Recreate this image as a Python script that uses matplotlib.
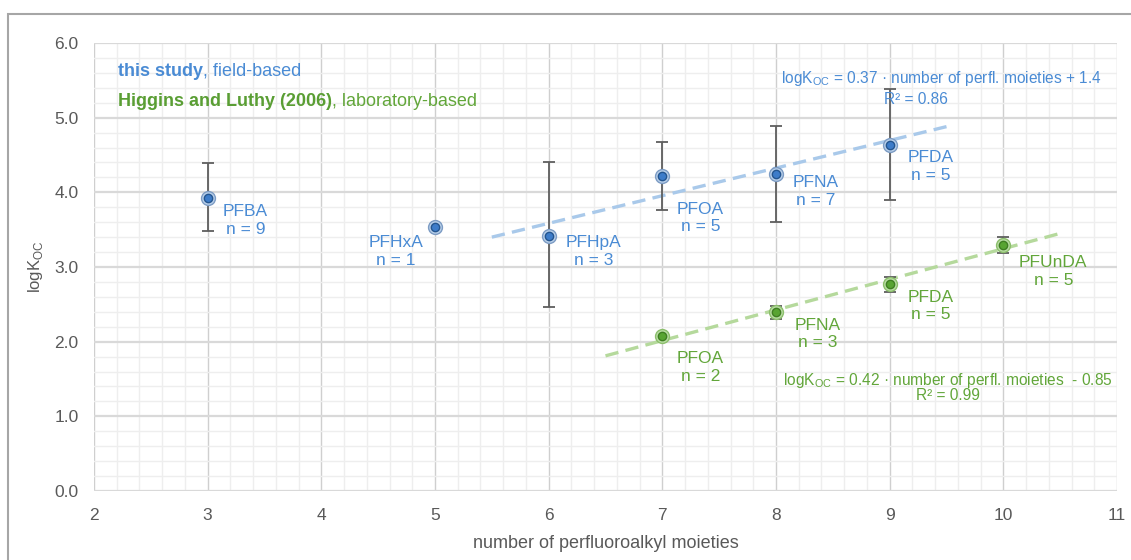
import numpy as np
import matplotlib
matplotlib.use("Agg")
import matplotlib.pyplot as plt
from matplotlib.patches import Rectangle
from matplotlib.ticker import MultipleLocator

plt.rcParams['font.family'] = ['Liberation Sans', 'DejaVu Sans']

# this study (field-based)
blue_x = [3, 5, 6, 7, 8, 9]
blue_y = [3.93, 3.53, 3.42, 4.22, 4.24, 4.64]
blue_lo = [3.48, np.nan, 2.46, 3.76, 3.60, 3.90]
blue_hi = [4.39, np.nan, 4.40, 4.68, 4.89, 5.38]
blue_names = ["PFBA", "PFHxA", "PFHpA", "PFOA", "PFNA", "PFDA"]
blue_n = [9, 1, 3, 5, 7, 5]
blue_trend_x = [5.5, 9.5]
blue_trend_y = [3.40, 4.88]

# Higgins and Luthy (2006), laboratory-based
green_x = [7, 8, 9, 10]
green_y = [2.07, 2.40, 2.77, 3.30]
green_lo = [np.nan, 2.31, 2.66, 3.19]
green_hi = [np.nan, 2.48, 2.87, 3.40]
green_names = ["PFOA", "PFNA", "PFDA", "PFUnDA"]
green_n = [2, 3, 5, 5]
green_trend_x = [6.5, 10.5]
green_trend_y = [1.81, 3.45]

blue_txt = "#4a8bd4"
green_txt = "#62a63a"

fig = plt.figure(figsize=(11.31, 5.6), dpi=100)
ax = fig.add_axes([94/1131, 1-491/560, (1117-94)/1131, (491-43)/560])

# outer frame of the chart
fig.patches.append(Rectangle((8/1131, -0.2), 1.2, 0.2 + (1-14/560), transform=fig.transFigure,
                             fill=False, edgecolor="#a6a6a6", lw=1.5))

ax.set_xlim(2, 11)
ax.set_ylim(0, 6)
ax.xaxis.set_major_locator(MultipleLocator(1))
ax.yaxis.set_major_locator(MultipleLocator(1))
ax.xaxis.set_minor_locator(MultipleLocator(0.2))
ax.yaxis.set_minor_locator(MultipleLocator(0.2))
ax.yaxis.set_major_formatter(matplotlib.ticker.FormatStrFormatter("%.1f"))
ax.grid(which="minor", color="#eeeeee", lw=1.0)
ax.grid(which="major", axis="x", color="#cfcfcf", lw=1.0)
ax.grid(which="major", axis="y", color="#d9d9d9", lw=1.6)
ax.set_axisbelow(True)
for s in ax.spines.values():
    s.set_visible(False)
ax.tick_params(which="both", length=0)
ax.tick_params(axis="x", pad=12, labelsize=12.5, labelcolor="#595959")
ax.tick_params(axis="y", pad=11, labelsize=12.5, labelcolor="#595959")

ax.set_xlabel("number of perfluoroalkyl moieties", fontsize=13, color="#595959", labelpad=9)
ax.set_ylabel(r"logK$_{\mathregular{OC}}$", fontsize=12, color="#595959", labelpad=7)

# trend lines
ax.plot(blue_trend_x, blue_trend_y, ls=(0, (4, 2.2)), color="#a9c9ea", lw=2.4, zorder=2)
ax.plot(green_trend_x, green_trend_y, ls=(0, (4, 2.2)), color="#b5d99c", lw=2.4, zorder=2)

# error bars
bx = np.array(blue_x); by = np.array(blue_y)
ax.errorbar(bx, by, yerr=[by - np.array(blue_lo), np.array(blue_hi) - by], fmt="none",
            ecolor="#5e5e5e", elinewidth=1.3, capsize=4, capthick=1.3, zorder=3)
gx = np.array(green_x); gy = np.array(green_y)
ax.errorbar(gx, gy, yerr=[gy - np.array(green_lo), np.array(green_hi) - gy], fmt="none",
            ecolor="#5e5e5e", elinewidth=1.3, capsize=4, capthick=1.3, zorder=3)

# markers
ax.plot(bx, by, "o", ms=10, mfc="#b8cfe9", mec="#7d9cc4", mew=1.0, zorder=4)
ax.plot(bx, by, "o", ms=6, mfc="#3d7cc9", mec="#24558f", mew=1.0, zorder=5)
ax.plot(gx, gy, "o", ms=10, mfc="#b9dca4", mec="#8cbf6c", mew=1.0, zorder=4)
ax.plot(gx, gy, "o", ms=6, mfc="#58a432", mec="#3f7e22", mew=1.0, zorder=5)

# point labels (offsets in pixels)
blue_off = [(38, -23), (-39, -24), (45, -16), (38, -42), (40, -17), (41, -22)]
green_off = [(38, -31), (42, -22), (41, -22), (50, -27)]
for x, y, nm, n, off in zip(blue_x, blue_y, blue_names, blue_n, blue_off):
    ax.annotate(f"{nm}\nn = {n}", (x, y), xytext=off, textcoords="offset pixels",
                ha="center", va="center", fontsize=12.5, color=blue_txt, linespacing=1.2)
for x, y, nm, n, off in zip(green_x, green_y, green_names, green_n, green_off):
    ax.annotate(f"{nm}\nn = {n}", (x, y), xytext=off, textcoords="offset pixels",
                ha="center", va="center", fontsize=12.5, color=green_txt, linespacing=1.2)

# series descriptions
t1 = fig.text(118/1131, 1-76/560, "this study", fontsize=13, fontweight="bold", color=blue_txt)
ax.annotate(", field-based", xy=(1, 0), xycoords=t1, va="bottom", fontsize=13, color=blue_txt)
t2 = fig.text(118/1131, 1-106/560, "Higgins and Luthy (2006)", fontsize=13, fontweight="bold",
              color="#5a9e34")
ax.annotate(", laboratory-based", xy=(1, 0), xycoords=t2, va="bottom", fontsize=13, color=green_txt)

# fit equations
fig.text(1102/1131, 1-79/560, r"logK$_{\mathregular{OC}}$ = 0.37 · number of perfl. moieties + 1.4",
         ha="right", va="center", fontsize=11.2, color=blue_txt)
fig.text(916/1131, 1-100/560, "R² = 0.86", ha="center", va="center", fontsize=11.2, color=blue_txt)
fig.text(1113/1131, 1-380/560, r"logK$_{\mathregular{OC}}$ = 0.42 · number of perfl. moieties  - 0.85",
         ha="right", va="center", fontsize=11.2, color=green_txt)
fig.text(948/1131, 1-396/560, "R² = 0.99", ha="center", va="center", fontsize=11.2, color=green_txt)

fig.savefig("out.png", dpi=100)
